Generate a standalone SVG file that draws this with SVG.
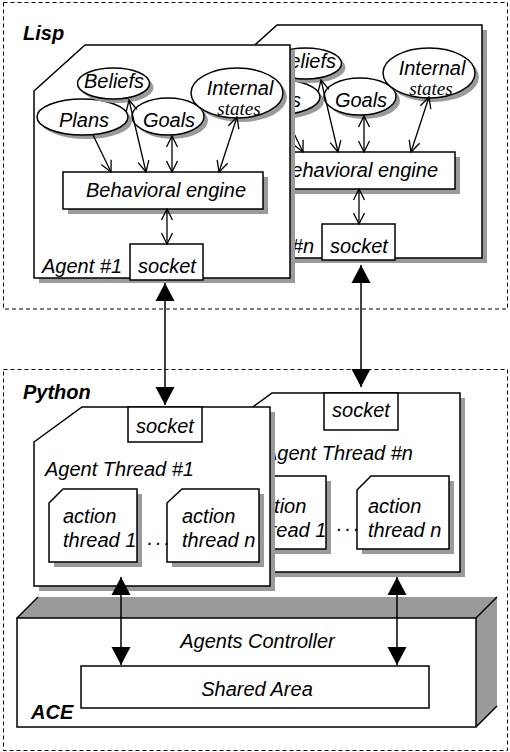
<svg xmlns="http://www.w3.org/2000/svg" width="510" height="752" viewBox="0 0 510 752">
<style>
.box{fill:#fff;stroke:#000;stroke-width:1.5}
.sh{fill:#9a9a9a}
.t{font-family:"Liberation Sans",Arial,sans-serif;font-style:italic;font-size:20px;fill:#000}
.ts{font-family:"Liberation Serif","Times New Roman",serif;font-style:italic;font-size:19px;fill:#000}
.b{font-weight:bold}
.m{text-anchor:middle}
.dash{fill:none;stroke:#000;stroke-width:1;stroke-dasharray:4 3}
.c{fill:none;stroke:#000;stroke-width:1.3}
.one{marker-end:url(#open)}
.two{marker-start:url(#open);marker-end:url(#open)}
.big{fill:none;stroke:#000;stroke-width:1.5;marker-start:url(#tri);marker-end:url(#tri)}
.gray{fill:#9a9a9a}
.ln{stroke:#000;stroke-width:1.5}
</style>
<defs>
<marker id="open" viewBox="-12 -7 13 14" refX="0" refY="0" markerWidth="13" markerHeight="14" markerUnits="userSpaceOnUse" orient="auto-start-reverse">
<path d="M-11,-5.5 L0,0 L-11,5.5" fill="none" stroke="#000" stroke-width="1.3"/>
</marker>
<marker id="tri" viewBox="-19 -10 20 20" refX="0" refY="0" markerWidth="20" markerHeight="20" markerUnits="userSpaceOnUse" orient="auto-start-reverse">
<path d="M-18,-9.5 L0,0 L-18,9.5 Z" fill="#000"/>
</marker>
<clipPath id="behind1">
<path clip-rule="evenodd" d="M0,0H510V752H0Z M34,91 L85,45 L295,45 L295,283 L34,283 Z"/>
</clipPath>
</defs>
<rect width="510" height="752" fill="#fff"/>

<g id="lisp-layer">
<rect class="dash" x="3.5" y="2.5" width="504" height="306.5"/>
<text class="t b" x="23" y="40">Lisp</text>
</g>

<g id="python-layer">
<rect class="dash" x="3.5" y="369.5" width="504" height="381"/>
<text class="t b" x="23" y="399">Python</text>
</g>

<g id="lisp-agent-n" transform="translate(192,-20)">
<polygon class="sh" points="39,96 90,50 295,50 295,283 39,283"/>
<polygon class="box" points="34,91 85,45 290,45 290,278 34,278"/>
<ellipse class="sh" cx="86.5" cy="121" rx="45.5" ry="18"/>
<ellipse class="box" cx="82.5" cy="117" rx="45.5" ry="18"/>
<ellipse class="sh" cx="117.5" cy="87.5" rx="36" ry="15.5"/>
<ellipse class="box" cx="113.5" cy="83.5" rx="36" ry="15.5"/>
<ellipse class="sh" cx="172" cy="120.5" rx="36" ry="18.5"/>
<ellipse class="box" cx="168" cy="116.5" rx="36" ry="18.5"/>
<ellipse class="sh" cx="241" cy="97" rx="46" ry="25"/>
<ellipse class="box" cx="237" cy="93" rx="46" ry="25"/>
<text class="t m" x="114" y="88">Beliefs</text>
<text class="t m" x="84" y="127">Plans</text>
<text class="t m" x="169" y="127">Goals</text>
<text class="t m" x="240" y="95">Internal</text>
<text class="ts m" x="239" y="115">states</text>
<rect class="sh" x="68" y="177" width="200" height="37"/>
<rect class="box" x="63" y="172" width="200" height="37"/>
<text class="t m" x="166" y="197">Behavioral engine</text>
<text class="t" x="42" y="273">Agent #n</text>
<rect class="box" x="130" y="244" width="73" height="36"/>
<text class="t m" x="167" y="273">socket</text>
</g>

<g id="lisp-agent-1">
<polygon class="sh" points="39,96 90,50 295,50 295,283 39,283"/>
<polygon class="box" points="34,91 85,45 290,45 290,278 34,278"/>
<ellipse class="sh" cx="86.5" cy="121" rx="45.5" ry="18"/>
<ellipse class="box" cx="82.5" cy="117" rx="45.5" ry="18"/>
<ellipse class="sh" cx="117.5" cy="87.5" rx="36" ry="15.5"/>
<ellipse class="box" cx="113.5" cy="83.5" rx="36" ry="15.5"/>
<ellipse class="sh" cx="172" cy="120.5" rx="36" ry="18.5"/>
<ellipse class="box" cx="168" cy="116.5" rx="36" ry="18.5"/>
<ellipse class="sh" cx="241" cy="97" rx="46" ry="25"/>
<ellipse class="box" cx="237" cy="93" rx="46" ry="25"/>
<text class="t m" x="114" y="88">Beliefs</text>
<text class="t m" x="84" y="127">Plans</text>
<text class="t m" x="169" y="127">Goals</text>
<text class="t m" x="240" y="95">Internal</text>
<text class="ts m" x="239" y="115">states</text>
<rect class="sh" x="68" y="177" width="200" height="37"/>
<rect class="box" x="63" y="172" width="200" height="37"/>
<text class="t m" x="166" y="197">Behavioral engine</text>
<text class="t" x="42" y="273">Agent #1</text>
<rect class="box" x="130" y="244" width="73" height="36"/>
<text class="t m" x="167" y="273">socket</text>
</g>

<g id="python-agent-n">
<polygon class="sh" points="229,433 277,398 465,398 465,577 229,577"/>
<polygon class="box" points="224,428 272,393 460,393 460,572 224,572"/>
<rect class="box" x="324" y="393" width="74" height="37"/>
<text class="t m" x="361" y="417">socket</text>
<text class="t" x="264" y="460">Agent Thread #n</text>
<polygon class="sh" points="244,495 258,481 331,481 331,554 244,554"/>
<polygon class="box" points="239,490 253,476 326,476 326,549 239,549"/>
<text class="t" x="253" y="513">action</text>
<text class="t" x="253" y="537">thread 1</text>
<polygon class="sh" points="362,495 376,481 454,481 454,554 362,554"/>
<polygon class="box" points="357,490 371,476 449,476 449,549 357,549"/>
<text class="t" x="368" y="513">action</text>
<text class="t" x="368" y="537">thread n</text>
<text class="t" x="337" y="531" letter-spacing="3">...</text>
</g>

<g id="python-agent-1">
<polygon class="sh" points="39,447 87,412 275,412 275,591 39,591"/>
<polygon class="box" points="34,442 82,407 270,407 270,586 34,586"/>
<rect class="box" x="128" y="407" width="74" height="35"/>
<text class="t m" x="165" y="433">socket</text>
<text class="t" x="45" y="476">Agent Thread #1</text>
<polygon class="sh" points="54,508 68,494 142,494 142,567 54,567"/>
<polygon class="box" points="49,503 63,489 137,489 137,562 49,562"/>
<text class="t" x="63" y="523">action</text>
<text class="t" x="63" y="547">thread 1</text>
<polygon class="sh" points="172,508 187,494 264,494 264,567 172,567"/>
<polygon class="box" points="167,503 182,489 259,489 259,562 167,562"/>
<text class="t" x="182" y="523">action</text>
<text class="t" x="182" y="547">thread n</text>
<text class="t" x="147.5" y="545" letter-spacing="3">...</text>
</g>

<g id="ace">
<polygon class="gray" points="17,618 38,597 497,597 476,618"/>
<polygon class="gray" points="476,618 497,597 497,706 476,727"/>
<rect class="box" x="17" y="618" width="459" height="109"/>
<line class="ln" x1="17" y1="618" x2="38" y2="597"/>
<line class="ln" x1="476" y1="618" x2="497" y2="597"/>
<line class="ln" x1="476" y1="727" x2="497" y2="706"/>
<text class="t m" x="257.5" y="648">Agents Controller</text>
<text class="t b" x="31" y="719">ACE</text>
</g>

<g id="shared-area">
<rect class="box" x="81" y="666" width="348" height="42"/>
<text class="t m" x="257" y="696">Shared Area</text>
</g>

<g id="connectors">
<g clip-path="url(#behind1)">
<line class="c one" x1="285" y1="115" x2="303" y2="152"/>
</g>
<line class="c two" x1="321" y1="80" x2="338" y2="152"/>
<line class="c two" x1="364" y1="116" x2="364" y2="152"/>
<line class="c two" x1="429" y1="97" x2="411" y2="152"/>
<line class="c two" x1="359" y1="189" x2="359" y2="224"/>

<line class="c one" x1="93" y1="135" x2="111" y2="172"/>
<line class="c two" x1="129" y1="100" x2="146" y2="172"/>
<line class="c two" x1="172" y1="136" x2="172" y2="172"/>
<line class="c two" x1="237" y1="117" x2="219" y2="172"/>
<line class="c two" x1="167" y1="209" x2="167" y2="244"/>

<line class="big" x1="165" y1="283" x2="165" y2="405"/>
<line class="big" x1="361" y1="265" x2="361" y2="387"/>
<line class="big" x1="121" y1="577" x2="121" y2="665"/>
<line class="big" x1="397" y1="577" x2="397" y2="665"/>
</g>
</svg>
